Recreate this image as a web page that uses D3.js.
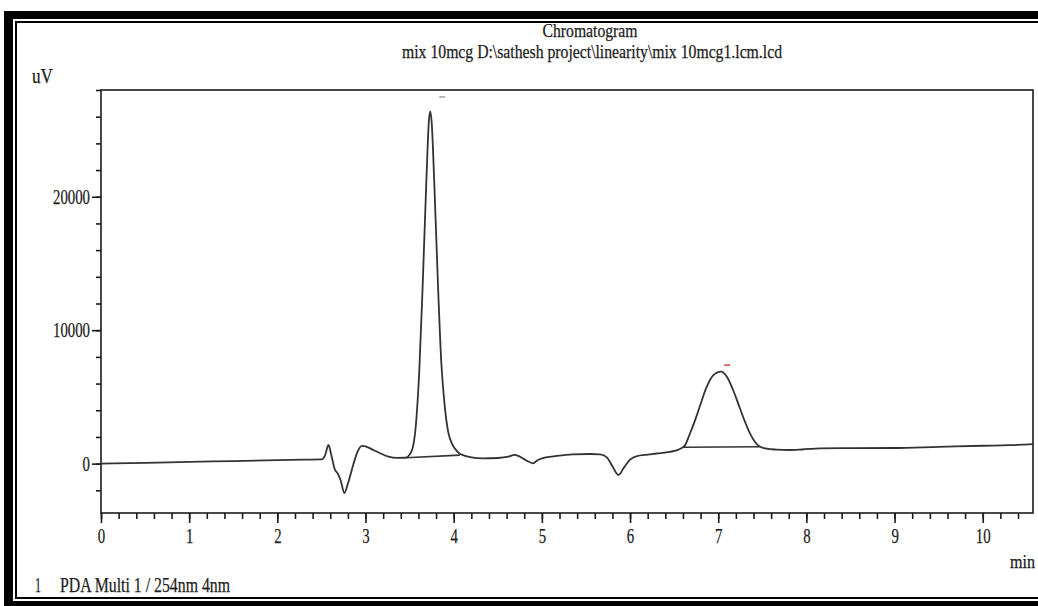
<!DOCTYPE html>
<html>
<head>
<meta charset="utf-8">
<script src="https://cdn.jsdelivr.net/npm/d3@7"></script>
<style>
  html, body { margin: 0; padding: 0; background: #fff; }
  svg { display: block; }
</style>
</head>
<body>
<script>
const WIDTH = 1038;
const HEIGHT = 606;
const INK = '#1c1c1c';
const TRACE = '#333333';
const SERIF = '"Liberation Serif", "DejaVu Serif", serif';

// retention time (min) / signal (uV)
const traceTime = [
  0.00, 0.50, 1.00, 1.50, 2.00, 2.30, 2.50, 2.54, 2.58, 2.61, 2.65, 2.69, 2.72, 2.76, 2.80, 2.86,
  2.91, 2.96, 3.00, 3.08, 3.16, 3.26, 3.36, 3.45, 3.52, 3.57, 3.61, 3.65, 3.69, 3.72, 3.735, 3.75,
  3.78, 3.82, 3.86, 3.90, 3.94, 3.98, 4.05, 4.12, 4.20, 4.33, 4.50, 4.62, 4.69, 4.74, 4.82, 4.90,
  4.95, 5.00, 5.15, 5.35, 5.55, 5.66, 5.74, 5.80, 5.87, 5.93, 6.00, 6.07, 6.20, 6.30, 6.45, 6.55,
  6.62, 6.68, 6.74, 6.79, 6.86, 6.94, 7.03, 7.10, 7.17, 7.24, 7.30, 7.36, 7.42, 7.47, 7.55, 7.66,
  7.80, 7.95, 8.15, 8.50, 9.00, 9.50, 10.00, 10.30, 10.57
];
const traceSignal = [
  0, 50, 130, 190, 260, 300, 320, 600, 1400, 700, -400, -800, -1300, -2200, -1500, -100,
  900, 1330, 1300, 1050, 800, 520, 430, 440, 900, 2800, 7000, 13700, 21200, 25800, 26400, 25600,
  21000, 13700, 7500, 4200, 2300, 1500, 850, 600, 470, 390, 420, 520, 650, 560, 250, 20,
  250, 400, 560, 700, 720, 700, 450, -200, -850, -300, 300, 550, 680, 760, 880, 1050,
  1350, 2260, 3300, 4260, 5600, 6600, 6900, 6500, 5500, 4260, 3200, 2260, 1600, 1280, 1120, 1050,
  1020, 1060, 1150, 1160, 1170, 1260, 1340, 1380, 1460
];

// integration baselines drawn under the two peaks: [t0, v0, t1, v1]
const peakBaselines = [
  [3.46, 440, 4.07, 640],
  [6.60, 1230, 7.47, 1260]
];
// tiny peak markers above the apexes
const peakMarks = [[3.87, 27500, '#9aa4b4'], [7.10, 7400, '#d94a3a']];

const xMajorTicks = [0, 1, 2, 3, 4, 5, 6, 7, 8, 9, 10];
const yMajorTicks = [0, 10000, 20000];
const xDomain = [0, 10.57];
const yDomain = [-3700, 28000];

const svg = d3.select('body').append('svg')
  .attr('width', WIDTH)
  .attr('height', HEIGHT)
  .attr('viewBox', `0 0 ${WIDTH} ${HEIGHT}`);

function addText(x, y, text, opts = {}) {
  const { size = 19, anchor = 'start', len = null, fill = INK } = opts;
  const t = svg.append('text')
    .attr('x', x)
    .attr('y', y)
    .attr('fill', fill)
    .attr('stroke', fill)
    .attr('stroke-width', 0.25)
    .attr('font-size', size)
    .attr('font-family', SERIF)
    .attr('text-anchor', anchor)
    .text(text);
  if (len) t.attr('textLength', len).attr('lengthAdjust', 'spacingAndGlyphs');
  return t;
}

// outer frame: heavy band + thin inner rule
svg.append('rect').attr('x', 4).attr('y', 11).attr('width', WIDTH - 4).attr('height', 8).attr('fill', '#000');
svg.append('rect').attr('x', 4).attr('y', 11).attr('width', 9).attr('height', HEIGHT - 11).attr('fill', '#000');
svg.append('rect').attr('x', 4).attr('y', 601).attr('width', WIDTH - 4).attr('height', 5).attr('fill', '#000');
svg.append('rect').attr('x', 15).attr('y', 21).attr('width', WIDTH - 15).attr('height', 2).attr('fill', '#000');
svg.append('rect').attr('x', 15).attr('y', 21).attr('width', 2).attr('height', 578).attr('fill', '#000');
svg.append('rect').attr('x', 15).attr('y', 597).attr('width', WIDTH - 15).attr('height', 2).attr('fill', '#000');

const x = d3.scaleLinear().domain(xDomain).range([101, 1033]);
const y = d3.scaleLinear().domain(yDomain).range([513, 90]);

// titles
addText(590, 37, 'Chromatogram', { anchor: 'middle', len: 95 });
addText(592, 58, 'mix 10mcg D:\\sathesh project\\linearity\\mix 10mcg1.lcm.lcd', { anchor: 'middle', len: 380 });
addText(32, 83, 'uV', { size: 20, len: 21 });

// plot box
svg.append('rect')
  .attr('x', x(xDomain[0]))
  .attr('y', y(yDomain[1]))
  .attr('width', x(xDomain[1]) - x(xDomain[0]))
  .attr('height', y(yDomain[0]) - y(yDomain[1]))
  .attr('fill', 'none')
  .attr('stroke', INK)
  .attr('stroke-width', 1.6);

// axes
const xMinor = d3.range(0, 53).map((i) => i / 5);
const yMinor = d3.range(-1, 15).map((i) => i * 2000);

const gxMinor = svg.append('g').attr('transform', `translate(0,${y(yDomain[0])})`)
  .call(d3.axisBottom(x).tickValues(xMinor).tickSize(6).tickFormat(''));
const gx = svg.append('g').attr('transform', `translate(0,${y(yDomain[0])})`)
  .call(d3.axisBottom(x).tickValues(xMajorTicks).tickSize(10).tickPadding(6).tickFormat(d3.format('d')));
const gyMinor = svg.append('g').attr('transform', `translate(${x(0)},0)`)
  .call(d3.axisLeft(y).tickValues(yMinor).tickSize(5).tickFormat(''));
const gy = svg.append('g').attr('transform', `translate(${x(0)},0)`)
  .call(d3.axisLeft(y).tickValues(yMajorTicks).tickSize(9).tickPadding(2).tickFormat(d3.format('d')));

[gxMinor, gx, gyMinor, gy].forEach((g) => {
  g.select('.domain').remove();
  g.selectAll('line').attr('stroke', INK).attr('stroke-width', 1.6);
  g.selectAll('text')
    .attr('fill', INK)
    .attr('stroke', INK)
    .attr('stroke-width', 0.25)
    .attr('font-size', 20)
    .attr('font-family', SERIF)
    .each(function () {
      const s = d3.select(this).text();
      d3.select(this).attr('textLength', s.length * 7.4).attr('lengthAdjust', 'spacingAndGlyphs');
    });
});

addText(1010, 568, 'min', { size: 18, len: 25 });
addText(35, 592, '1', { size: 20, len: 6 });
addText(60, 592, 'PDA Multi 1 / 254nm 4nm', { size: 20, len: 170 });

// peak baselines
svg.append('g').selectAll('line')
  .data(peakBaselines)
  .join('line')
  .attr('x1', (d) => x(d[0])).attr('y1', (d) => y(d[1]))
  .attr('x2', (d) => x(d[2])).attr('y2', (d) => y(d[3]))
  .attr('stroke', TRACE)
  .attr('stroke-width', 1.6);

// chromatogram trace
const points = traceTime.map((t, i) => [t, traceSignal[i]]);
svg.append('path')
  .datum(points)
  .attr('fill', 'none')
  .attr('stroke', TRACE)
  .attr('stroke-width', 1.8)
  .attr('stroke-linejoin', 'round')
  .attr('d', d3.line()
    .x((d) => x(d[0]))
    .y((d) => y(d[1]))
    .curve(d3.curveMonotoneX));

// peak markers
svg.append('g').selectAll('rect')
  .data(peakMarks)
  .join('rect')
  .attr('x', (d) => x(d[0]) - 3)
  .attr('y', (d) => y(d[1]) - 0.5)
  .attr('width', 6)
  .attr('height', 1.5)
  .attr('fill', (d) => d[2]);
</script>
</body>
</html>
